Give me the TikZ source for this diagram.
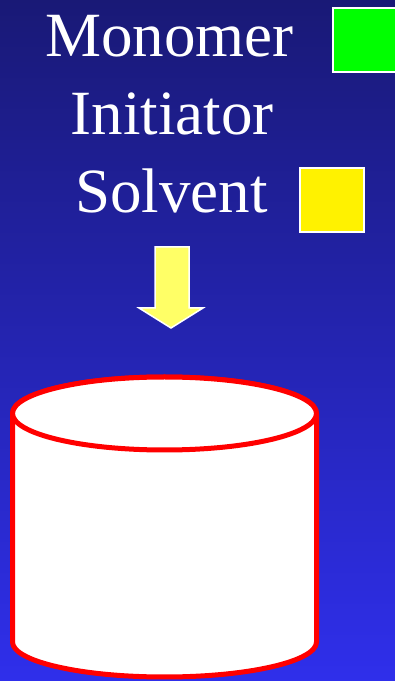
\documentclass[tikz,border=0pt]{standalone}
\usepackage{fontspec}
\setmainfont{Liberation Serif}
\usepackage{xcolor}
\usepackage{tikz}
\usetikzlibrary{positioning}

\definecolor{slidetop}{RGB}{25,25,118}
\definecolor{slidebottom}{RGB}{47,47,235}
\definecolor{feedyellow}{RGB}{255,255,102}

\begin{document}
\begin{tikzpicture}[
  x=1pt,y=1pt,
  label/.style={
    text=white,
    anchor=base,
    inner sep=0pt,
    font=\fontsize{63}{63}\selectfont
  },
  swatch/.style={
    draw=white,
    line width=1.5pt,
    minimum width=64pt,
    minimum height=64pt,
    inner sep=0pt
  },
  vessel/.style={
    draw=red,
    fill=white,
    line width=5pt,
    line join=round
  }
]
\useasboundingbox (0,0) rectangle (395,681);
\clip (0,0) rectangle (395,681);
\shade[top color=slidetop,bottom color=slidebottom] (0,0) rectangle (395,681);

\node[label] (monomer) at (169.5,624) {Monomer};
\node[label] (initiator) at (172,546) {Initiator};
\node[label] (solvent) at (171.5,468) {Solvent};

\node[swatch,fill=green] (monomerbox) at (365,641) {};
\node[swatch,fill=yellow] (solventbox) at (332,481) {};

% feed arrow
\draw[white,line width=1.5pt,fill=feedyellow]
  (155,434) -- (189,434) -- (189,373) -- (203,373)
  -- (171,353) -- (139,373) -- (155,373) -- cycle;

% reactor
\draw[vessel] (12.5,267.5) -- (12.5,39) arc(180:360:152 and 35)
  -- (316.5,267.5) arc(0:180:152 and 36.5) -- cycle;
\draw[vessel] (164.5,267.5) ellipse (152 and 36.5);
\end{tikzpicture}
\end{document}
